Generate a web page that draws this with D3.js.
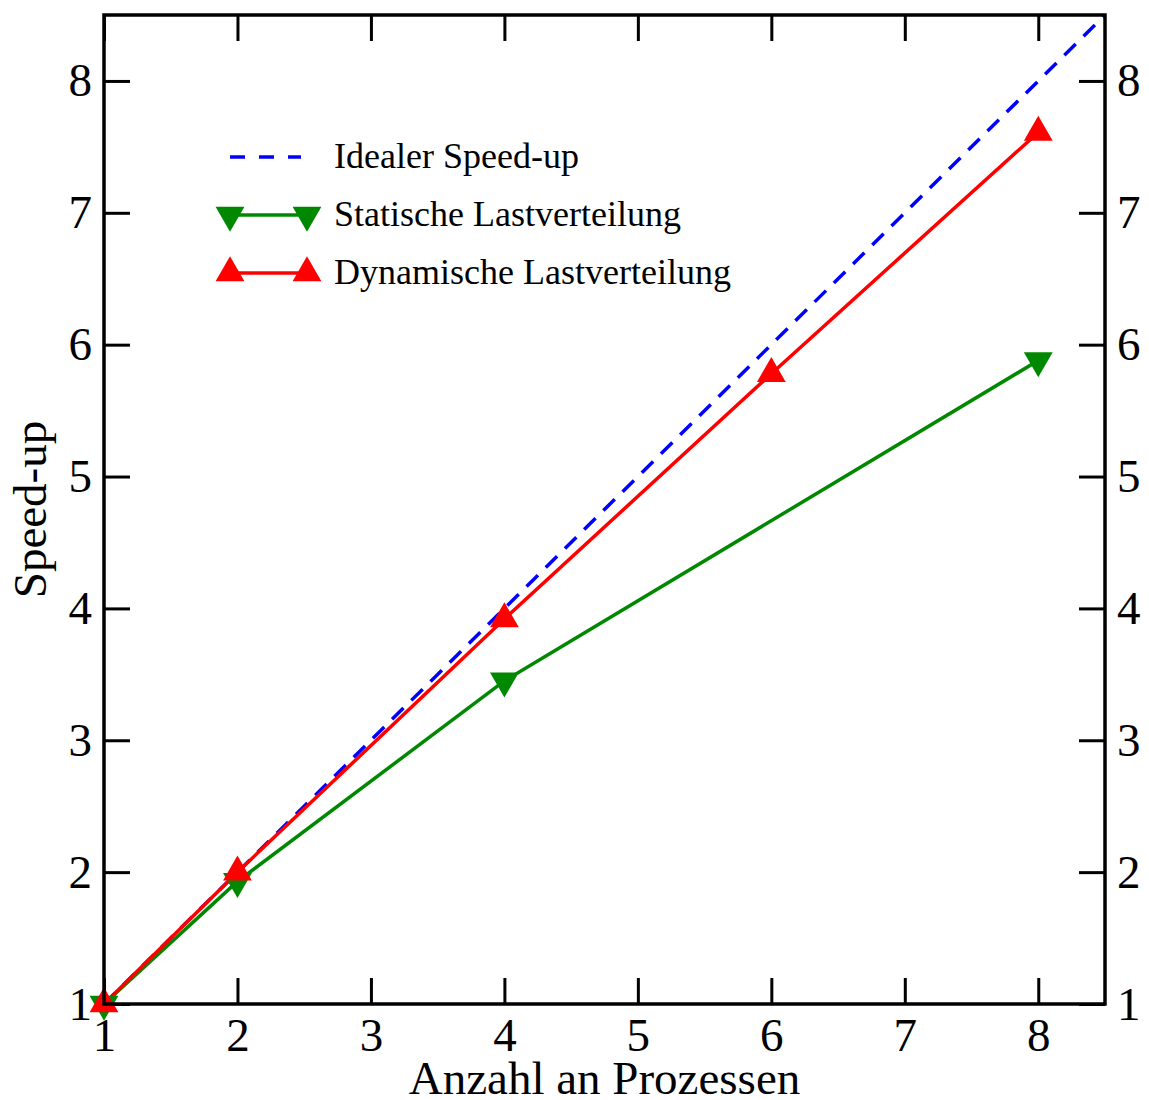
<!DOCTYPE html>
<html>
<head>
<meta charset="utf-8">
<script src="https://cdn.jsdelivr.net/npm/d3@7"></script>
<style>
  body { margin: 0; background: #fff; }
  text { font-family: "Liberation Serif", "DejaVu Serif", serif; fill: #000; }
</style>
</head>
<body>
<div class="chart"></div>
<script>
var xTicks = [1, 2, 3, 4, 5, 6, 7, 8],
    yTicks = [1, 2, 3, 4, 5, 6, 7, 8];

var idealX = [1, 8.5],
    idealY = [1, 8.5];

var staticX = [1, 2, 4, 8],
    staticY = [1.0, 1.93, 3.45, 5.88];

var dynamicX = [1, 2, 4, 6, 8],
    dynamicY = [1.0, 2.0, 3.92, 5.78, 7.61];

var legendLabels = ['Idealer Speed-up', 'Statische Lastverteilung', 'Dynamische Lastverteilung'];

var width = 1149, height = 1100;
var plotL = 104, plotR = 1105, plotT = 15, plotB = 1004;

var svg = d3.select('.chart').append('svg')
  .attr('width', width)
  .attr('height', height);

var x = d3.scaleLinear().domain([1, 8.5]).range([plotL, plotR]);
var y = d3.scaleLinear().domain([1, 8.5]).range([plotB, plotT]);

var zip = function(a, b) { return a.map(function(v, i) { return [v, b[i]]; }); };

// ticks inside, drawn first so the frame sits over them
var tickLen = 26;
var tickFont = '47px';

var xBottom = svg.append('g').attr('transform', 'translate(0,' + plotB + ')')
  .call(d3.axisBottom(x).tickValues(xTicks).tickSizeInner(-tickLen).tickSizeOuter(0).tickPadding(14));
var xTop = svg.append('g').attr('transform', 'translate(0,' + plotT + ')')
  .call(d3.axisTop(x).tickValues(xTicks).tickSizeInner(-tickLen).tickSizeOuter(0).tickFormat(''));
var yLeft = svg.append('g').attr('transform', 'translate(' + plotL + ',0)')
  .call(d3.axisLeft(y).tickValues(yTicks).tickSizeInner(-tickLen).tickSizeOuter(0).tickPadding(12));
var yRight = svg.append('g').attr('transform', 'translate(' + plotR + ',0)')
  .call(d3.axisRight(y).tickValues(yTicks).tickSizeInner(-tickLen).tickSizeOuter(0).tickPadding(12));

[xBottom, xTop, yLeft, yRight].forEach(function(g) {
  g.select('.domain').remove();
  g.selectAll('line').attr('stroke', '#000').attr('stroke-width', 3);
  g.selectAll('text')
    .style('font-family', '"Liberation Serif", serif')
    .style('font-size', tickFont)
    .attr('fill', '#000');
});
xBottom.selectAll('text').attr('y', 14).attr('dy', '0.71em');
yLeft.selectAll('text').attr('x', -12);
yRight.selectAll('text').attr('x', 12);

// line series
var line = d3.line()
  .x(function(d) { return x(d[0]); })
  .y(function(d) { return y(d[1]); });

svg.append('path')
  .datum(zip(idealX, idealY))
  .attr('d', line)
  .attr('fill', 'none')
  .attr('stroke', '#0000ff')
  .attr('stroke-width', 3.5)
  .attr('stroke-dasharray', '16,11');

svg.append('path')
  .datum(zip(staticX, staticY))
  .attr('d', line)
  .attr('fill', 'none')
  .attr('stroke', '#008800')
  .attr('stroke-width', 3.5);

svg.append('path')
  .datum(zip(dynamicX, dynamicY))
  .attr('d', line)
  .attr('fill', 'none')
  .attr('stroke', '#ff0000')
  .attr('stroke-width', 3.5);

// triangle markers
var tri = d3.symbol().type(d3.symbolTriangle).size(360);

svg.selectAll('.static-pt').data(zip(staticX, staticY)).enter().append('path')
  .attr('class', 'static-pt')
  .attr('d', tri)
  .attr('fill', '#008800')
  .attr('transform', function(d) { return 'translate(' + x(d[0]) + ',' + y(d[1]) + ') rotate(180)'; });

svg.selectAll('.dyn-pt').data(zip(dynamicX, dynamicY)).enter().append('path')
  .attr('class', 'dyn-pt')
  .attr('d', tri)
  .attr('fill', '#ff0000')
  .attr('transform', function(d) { return 'translate(' + x(d[0]) + ',' + y(d[1]) + ')'; });

// frame
svg.append('rect')
  .attr('x', plotL).attr('y', plotT)
  .attr('width', plotR - plotL).attr('height', plotB - plotT)
  .attr('fill', 'none')
  .attr('stroke', '#000')
  .attr('stroke-width', 3.5);

// axis titles
svg.append('text')
  .attr('x', (plotL + plotR) / 2)
  .attr('y', 1094)
  .attr('text-anchor', 'middle')
  .style('font-size', '47px')
  .text('Anzahl an Prozessen');

svg.append('text')
  .attr('transform', 'translate(46,' + (plotB + plotT) / 2 + ') rotate(-90)')
  .attr('text-anchor', 'middle')
  .style('font-size', '47px')
  .text('Speed-up');

// legend
var legend = svg.append('g');
var rows = [157, 215, 273];
legend.append('line')
  .attr('x1', 230).attr('x2', 301).attr('y1', rows[0]).attr('y2', rows[0])
  .attr('stroke', '#0000ff').attr('stroke-width', 3.5).attr('stroke-dasharray', '15,14');

[['#008800', 180], ['#ff0000', 0]].forEach(function(s, i) {
  var ry = rows[i + 1];
  legend.append('line')
    .attr('x1', 230).attr('x2', 307).attr('y1', ry).attr('y2', ry)
    .attr('stroke', s[0]).attr('stroke-width', 3.5);
  [230, 307].forEach(function(px) {
    legend.append('path')
      .attr('d', tri)
      .attr('fill', s[0])
      .attr('transform', 'translate(' + px + ',' + ry + ') rotate(' + s[1] + ')');
  });
});

legend.selectAll('.leg-text').data(legendLabels).enter().append('text')
  .attr('class', 'leg-text')
  .attr('x', 334)
  .attr('y', function(d, i) { return rows[i] + 11; })
  .style('font-size', '36px')
  .text(function(d) { return d; });
</script>
</body>
</html>
